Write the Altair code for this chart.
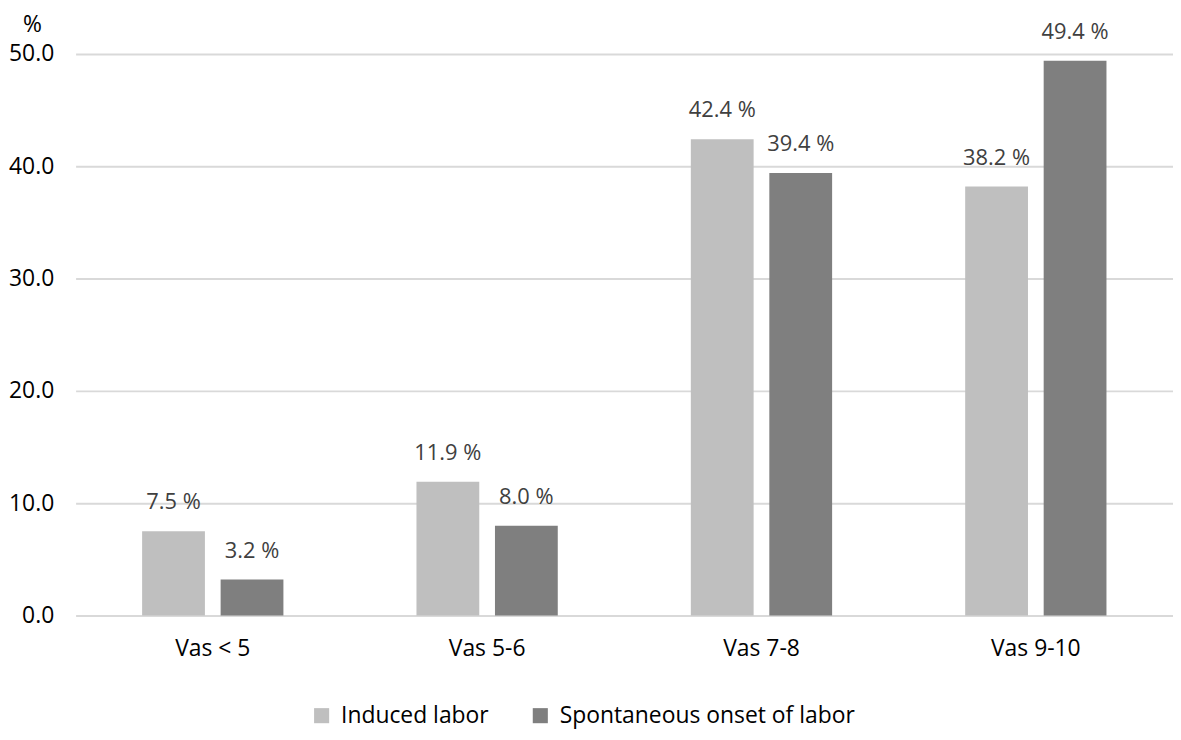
import altair as alt
import pandas as pd

categories = ["Vas < 5", "Vas 5-6", "Vas 7-8", "Vas 9-10"]
series = ["Induced labor", "Spontaneous onset of labor"]
induced = [7.5, 11.9, 42.4, 38.2]
spontaneous = [3.2, 8.0, 39.4, 49.4]
y_ticks = [0, 10, 20, 30, 40, 50]
colors = ["#bfbfbf", "#7f7f7f"]

rows = []
for c, a, b in zip(categories, induced, spontaneous):
    rows.append({"cat": c, "series": series[0], "value": a})
    rows.append({"cat": c, "series": series[1], "value": b})
df = pd.DataFrame(rows)

FONT = "Open Sans"

base = alt.Chart(df).transform_calculate(
    label="format(datum.value, '.1f') + ' %'"
).encode(
    x=alt.X("cat:N", sort=categories, title=None,
            scale=alt.Scale(paddingInner=0.485, paddingOuter=0.2425),
            axis=alt.Axis(labelAngle=0, ticks=False, domain=False,
                          labelFont=FONT, labelFontSize=23, labelColor="#000000",
                          labelPadding=22, grid=False)),
    xOffset=alt.XOffset("series:N", sort=series,
                        scale=alt.Scale(paddingInner=0.2, paddingOuter=0)),
)

bars = base.mark_bar().encode(
    y=alt.Y("value:Q", scale=alt.Scale(domain=[0, 50], nice=False),
            axis=alt.Axis(values=y_ticks, format=".1f", ticks=False, domain=False,
                          grid=True, gridColor="#d9d9d9", gridWidth=2,
                          labelFont=FONT, labelFontSize=23, labelColor="#000000",
                          labelPadding=22,
                          title="%", titleAngle=0, titleFont=FONT, titleFontSize=23,
                          titleFontWeight="normal", titleColor="#000000",
                          titleAlign="center", titleBaseline="middle",
                          titleX=-44, titleY=-30)),
    color=alt.Color("series:N", sort=series,
                    scale=alt.Scale(domain=series, range=colors),
                    legend=alt.Legend(title=None, orient="none", direction="horizontal",
                                      legendX=236, legendY=654,
                                      symbolType="square", symbolSize=230,
                                      symbolStrokeWidth=0, symbolOpacity=1,
                                      labelFont=FONT, labelFontSize=23,
                                      labelColor="#000000", labelOffset=8,
                                      labelLimit=500, labelBaseline="middle",
                                      columnPadding=40)),
)

labels = base.mark_text(baseline="bottom", dy=-17, font=FONT, fontSize=22,
                        color="#404040").encode(
    y=alt.Y("value:Q"),
    text=alt.Text("label:N"),
)

chart = alt.layer(bars, labels).properties(
    width=1104, height=565,
    autosize=alt.AutoSizeParams(type="none"),
    padding={"left": 68, "top": 44, "right": 0, "bottom": 115},
).configure_view(stroke=None)

chart.save("out.html", embed_options={"renderer": "svg", "actions": False})
